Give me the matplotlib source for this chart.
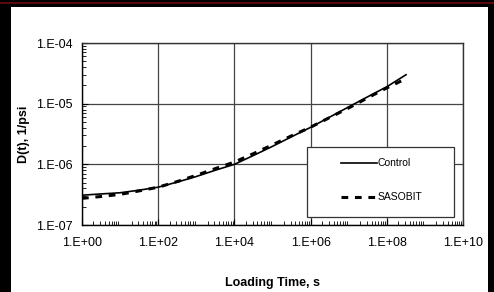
import numpy as np
import matplotlib
matplotlib.use("Agg")
import matplotlib.pyplot as plt
import matplotlib.ticker as mticker
from matplotlib.patches import Rectangle

plt.rcParams["font.family"] = ["Liberation Sans", "DejaVu Sans"]

# loading time (s) and creep compliance D(t) (1/psi)
time_control = [1e0, 3.16e0, 1e1, 3.16e1, 1e2, 3.16e2, 1e3, 3.16e3, 1e4,
                3.16e4, 1e5, 3.16e5, 1e6, 3.16e6, 1e7, 3.16e7, 1e8, 3.2e8]
d_control = [3.1e-7, 3.25e-7, 3.4e-7, 3.75e-7, 4.2e-7, 5.1e-7, 6.3e-7, 8.0e-7,
             1.0e-6, 1.4e-6, 1.98e-6, 2.85e-6, 4.07e-6, 6.0e-6, 8.85e-6,
             1.3e-5, 1.9e-5, 3.0e-5]

time_sasobit = [1e0, 3.16e0, 1e1, 3.16e1, 1e2, 3.16e2, 1e3, 3.16e3, 1e4,
                3.16e4, 1e5, 3.16e5, 1e6, 3.16e6, 1e7, 3.16e7, 1e8, 2.5e8]
d_sasobit = [2.75e-7, 2.95e-7, 3.2e-7, 3.65e-7, 4.2e-7, 5.2e-7, 6.6e-7, 8.5e-7,
             1.09e-6, 1.5e-6, 2.1e-6, 2.95e-6, 4.1e-6, 5.9e-6, 8.5e-6,
             1.25e-5, 1.82e-5, 2.4e-5]

x_label = "Loading Time, s"
y_label = "D(t), 1/psi"
series_labels = ["Control", "SASOBIT"]


def exp_fmt(v, pos):
    return f"1.E{int(round(np.log10(v))):+03d}"


fig = plt.figure(figsize=(4.94, 2.92), dpi=100, facecolor="black")
# white page inside the black frame, thin dark red line along the top
fig.patches.append(Rectangle((11 / 494, 0), 477 / 494, 285 / 292,
                             transform=fig.transFigure, facecolor="white",
                             edgecolor="none", zorder=-1))
fig.patches.append(Rectangle((0, 288 / 292), 1, 2 / 292,
                             transform=fig.transFigure, facecolor="#5a0a0a",
                             edgecolor="none", zorder=-1))
ax = fig.add_axes([82 / 494, 67 / 292, 381 / 494, 182 / 292])

ax.plot(time_control, d_control, color="black", linewidth=1.2,
        label=series_labels[0])
ax.plot(time_sasobit, d_sasobit, color="black", linewidth=2.2,
        dashes=(2.2, 2.2), label=series_labels[1])

ax.set_xscale("log")
ax.set_yscale("log")
ax.set_xlim(1e0, 1e10)
ax.set_ylim(1e-7, 1e-4)

ax.xaxis.set_major_locator(mticker.FixedLocator([1e0, 1e2, 1e4, 1e6, 1e8, 1e10]))
ax.xaxis.set_minor_locator(mticker.LogLocator(base=10, subs=np.arange(2, 10),
                                              numticks=20))
ax.xaxis.set_minor_formatter(mticker.NullFormatter())
ax.xaxis.set_major_formatter(mticker.FuncFormatter(exp_fmt))
ax.yaxis.set_major_formatter(mticker.FuncFormatter(exp_fmt))
ax.yaxis.set_minor_formatter(mticker.NullFormatter())

ax.grid(True, which="major", color="#444444", linewidth=0.9)
ax.tick_params(which="both", direction="in", labelsize=9, color="black")
ax.tick_params(axis="x", which="major", length=4, pad=9)
ax.tick_params(axis="y", which="major", length=4, pad=7)
ax.tick_params(which="minor", length=3, width=0.6)
for s in ax.spines.values():
    s.set_linewidth(1.0)
ax.spines["top"].set_color("#333333")
ax.spines["right"].set_color("#333333")

ax.set_xlabel(x_label, fontsize=9, fontweight="bold", labelpad=20)
ax.set_ylabel(y_label, fontsize=9, fontweight="bold", labelpad=4)

# legend frame drawn separately so its size matches the original box
ax.add_patch(Rectangle((0.59, 0.044), 0.386, 0.387, transform=ax.transAxes,
                       facecolor="white", edgecolor="#333333", linewidth=0.9,
                       zorder=3))
leg = ax.legend(loc="center", bbox_to_anchor=(0.787, 0.246), frameon=False,
                fontsize=7.5, handlelength=3.4, handletextpad=0.1,
                labelspacing=2.3)
leg.set_zorder(4)

fig.savefig("out.png", dpi=100, facecolor=fig.get_facecolor())
